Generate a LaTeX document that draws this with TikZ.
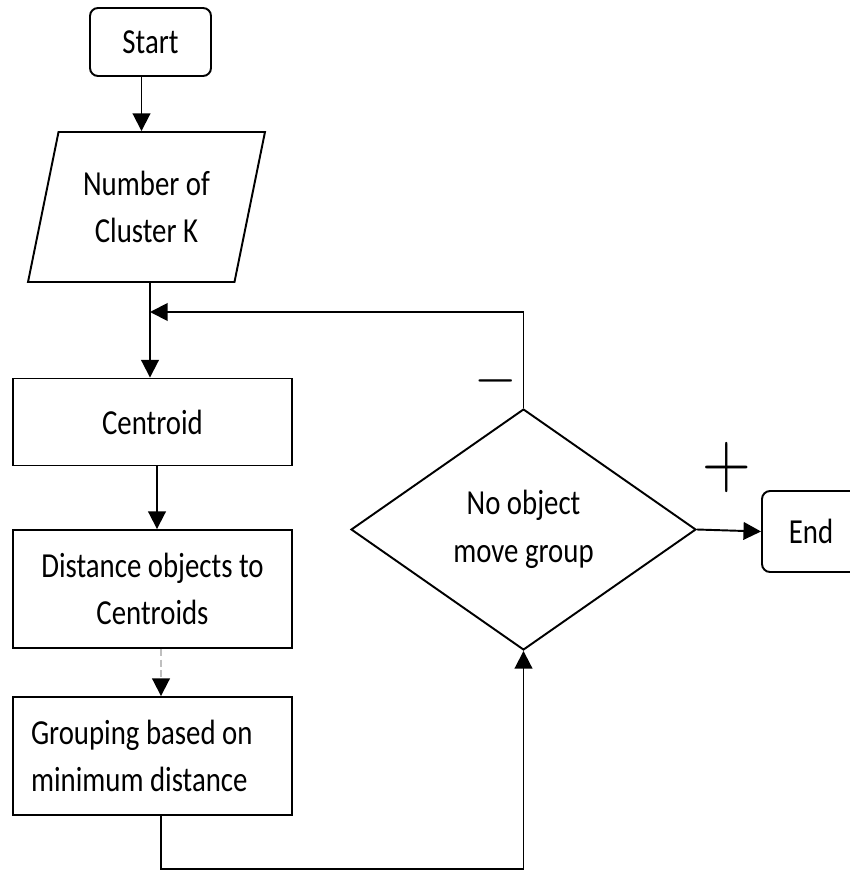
\documentclass[tikz,border=0pt]{standalone}
\usepackage{fontspec}
\setmainfont{Carlito}[FakeStretch=0.82]
\usepackage{tikz}
\usetikzlibrary{shapes.geometric,arrows.meta}

\begin{document}
\begin{tikzpicture}[x=0.02cm, y=-0.02cm, line width=1.1pt,
		font=\fontsize{20}{27}\selectfont,
		box/.style={draw, rectangle, minimum width=5.58cm, align=center, inner sep=2pt},
		term/.style={draw, rectangle, rounded corners=0.16cm, align=center},
		arrow/.style={-{Triangle[width=10pt,length=10pt]}}]
			\useasboundingbox (0,0) rectangle (849,871);
			\node[term, minimum width=2.42cm, minimum height=1.36cm] at (150.5, 42) (start) {Start};
			\node[draw, trapezium, trapezium left angle=70, trapezium right angle=110,
				trapezium stretches body, minimum width=4.74cm, minimum height=3cm, align=center]
				at (146.5, 207) (input) {Number of\\Cluster K};
			\node[box, minimum height=1.74cm] at (152.5, 422) (centroid) {Centroid};
			\node[box, minimum height=2.36cm] at (152.5, 589) (distance) {Distance objects to\\Centroids};
			\node[box, minimum height=2.36cm, align=flush left, text width=4.86cm, inner xsep=0.36cm]
				at (152.5, 756) (grouping) {Grouping based on\\minimum distance};
			\node[draw, diamond, minimum width=6.9cm, minimum height=4.82cm, align=center, inner sep=0pt]
				at (523.5, 529.5) (decision) {No object\\move group};
			\node[term, minimum width=1.96cm, minimum height=1.62cm] at (811, 531.5) (end) {End};
			\node at (496, 381) (minus) {\scalebox{1.5}[1.6]{$-$}};
			\node at (727, 467) (plus) {\scalebox{1.85}[2.2]{$+$}};
			\coordinate (join) at (150, 312);
			\coordinate (low) at (0, 869);

			\draw[arrow] ([xshift=-0.18cm]start.south) -- ([xshift=-0.18cm]start.south |- input.north);
			\draw[arrow] (input.south -| join) -- (centroid.north -| join);
			\draw[arrow] (decision.north) |- (join);
			\draw[arrow] ([xshift=0.09cm]centroid.south) -- ([xshift=0.09cm]distance.north);
			\draw[-{Triangle[width=10pt,length=10pt,color=black]}, draw=gray!50, dash pattern=on 4pt off 2pt]
				([xshift=0.17cm]distance.south) -- ([xshift=0.17cm]grouping.north);
			\draw[arrow] ([xshift=0.17cm]grouping.south) |- (low -| decision.south) -- (decision.south);
			\draw[arrow] (decision.east) -- (end.west);
		\end{tikzpicture}
\end{document}
